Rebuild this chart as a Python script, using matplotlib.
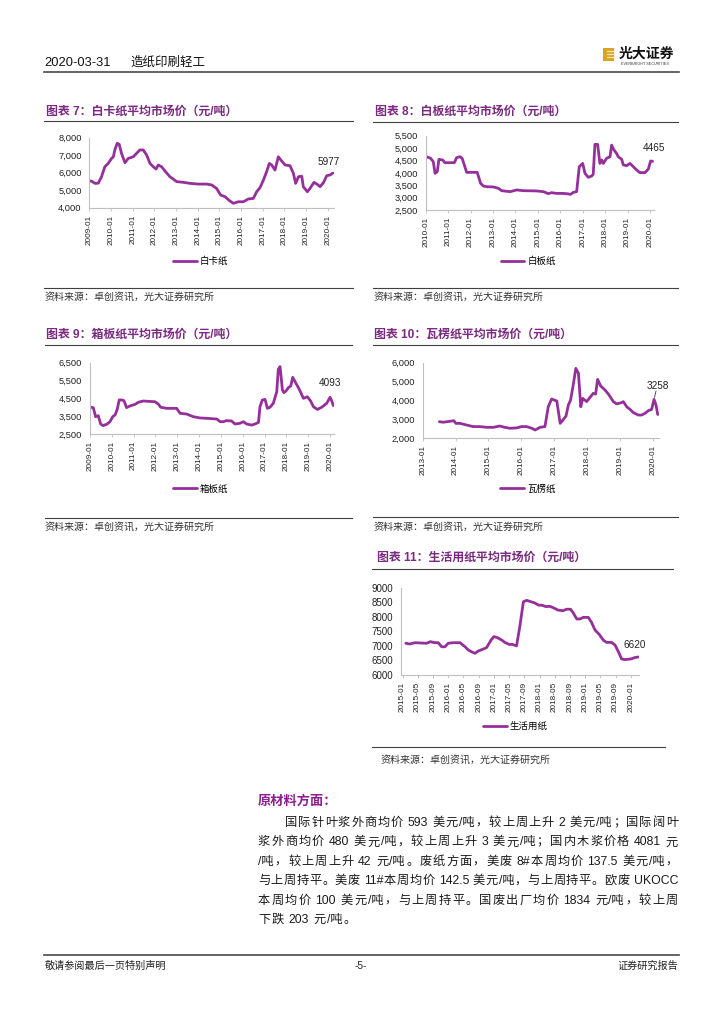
import matplotlib
matplotlib.use('Agg')
import matplotlib.pyplot as plt
import matplotlib.dates as mdates
from matplotlib.lines import Line2D
from matplotlib.patches import Rectangle
from matplotlib.ticker import FuncFormatter
import pandas as pd

plt.rcParams['font.family'] = ['Liberation Sans', 'Noto Sans CJK SC']

# ---------------- data ----------------
baika_dates = ['2009-01-01', '2009-02-10', '2009-04-05', '2009-06-01', '2009-07-26', '2009-09-20',
               '2009-11-15', '2010-01-12', '2010-02-10', '2010-03-07', '2010-04-16', '2010-05-20',
               '2010-06-28', '2010-08-25', '2010-10-20', '2011-01-12', '2011-03-07', '2011-05-03',
               '2011-06-28', '2011-08-25', '2011-10-20', '2011-12-15', '2012-01-30', '2012-03-07',
               '2012-05-03', '2012-06-28', '2012-09-20', '2013-01-12', '2013-05-03', '2013-08-25',
               '2014-01-12', '2014-06-01', '2014-08-25', '2014-11-15', '2015-01-23', '2015-04-05',
               '2015-06-28', '2015-08-25', '2015-11-15', '2016-02-10', '2016-05-03', '2016-07-26',
               '2016-09-20', '2016-11-15', '2017-01-12', '2017-03-07', '2017-04-22', '2017-06-01',
               '2017-07-26', '2017-09-20', '2017-11-15', '2018-01-12', '2018-04-05', '2018-06-01',
               '2018-07-09', '2018-08-25', '2018-10-20', '2018-11-15', '2019-01-23', '2019-03-07',
               '2019-05-14', '2019-07-09', '2019-08-25', '2019-10-20', '2019-12-15', '2020-02-10',
               '2020-03-27']
baika_values = [5520, 5520, 5390, 5400, 5770, 6340, 6530, 6820, 6900, 7300, 7680, 7620,
                7100, 6570, 6820, 6910, 7100, 7300, 7300, 7010, 6530, 6340, 6210, 6440,
                6340, 6100, 5770, 5490, 5450, 5390, 5350, 5350, 5300, 5100, 4720, 4630,
                4380, 4250, 4340, 4340, 4500, 4530, 4910, 5140, 5580, 6060, 6530, 6440,
                6150, 6910, 6670, 6440, 6400, 5960, 5390, 5770, 5800, 5200, 4910, 5100,
                5450, 5330, 5200, 5430, 5830, 5870, 5977]

baiban_dates = ['2010-01-16', '2010-03-22', '2010-05-05', '2010-06-02', '2010-07-09', '2010-08-04',
                '2010-10-04', '2010-11-10', '2011-04-12', '2011-05-19', '2011-07-13', '2011-08-18',
                '2011-10-30', '2012-04-19', '2012-06-13', '2012-07-27', '2012-09-20', '2013-01-08',
                '2013-03-29', '2013-05-22', '2013-10-05', '2014-01-22', '2014-05-09', '2014-12-13',
                '2015-04-01', '2015-06-21', '2015-08-14', '2015-11-03', '2016-02-21', '2016-05-10',
                '2016-06-17', '2016-07-31', '2016-09-24', '2016-11-06', '2017-01-01', '2017-02-07',
                '2017-04-02', '2017-05-26', '2017-06-21', '2017-07-19', '2017-09-01', '2017-10-08',
                '2017-11-06', '2017-12-03', '2018-01-26', '2018-03-22', '2018-04-16', '2018-05-26',
                '2018-07-05', '2018-08-03', '2018-09-27', '2018-10-24', '2018-12-17', '2019-02-10',
                '2019-04-05', '2019-05-30', '2019-07-20', '2019-10-12', '2019-12-05', '2020-01-12',
                '2020-02-13']
baiban_values = [4653, 4586, 4450, 3980, 4050, 4546, 4520, 4410, 4410, 4610, 4653, 4586,
                 4020, 4020, 3577, 3470, 3440, 3430, 3375, 3280, 3240, 3310, 3280, 3270,
                 3240, 3160, 3200, 3170, 3170, 3150, 3130, 3210, 3240, 4250, 4380, 3980,
                 3820, 3870, 3940, 5150, 5150, 4380, 4520, 4380, 4590, 4650, 5120, 4920,
                 4790, 4650, 4550, 4320, 4290, 4380, 4250, 4115, 4010, 4010, 4150, 4480,
                 4465]

xiangban_dates = ['2009-01-01', '2009-02-25', '2009-04-05', '2009-05-19', '2009-06-28', '2009-08-10',
                  '2009-10-15', '2009-12-01', '2010-01-16', '2010-02-25', '2010-04-01', '2010-05-05',
                  '2010-06-13', '2010-07-23', '2010-09-05', '2010-10-30', '2011-01-23', '2011-03-22',
                  '2011-06-10', '2011-12-24', '2012-02-17', '2012-03-29', '2012-07-05', '2012-12-20',
                  '2013-02-17', '2013-06-06', '2013-09-27', '2014-01-16', '2014-05-09', '2014-10-24',
                  '2014-12-17', '2015-02-10', '2015-04-05', '2015-06-28', '2015-08-25', '2015-11-15',
                  '2016-01-12', '2016-03-07', '2016-05-30', '2016-07-23', '2016-09-20', '2016-10-15',
                  '2016-11-24', '2017-01-08', '2017-02-17', '2017-04-01', '2017-05-26', '2017-07-23',
                  '2017-08-18', '2017-09-16', '2017-10-26', '2017-11-20', '2017-12-24', '2018-02-02',
                  '2018-03-14', '2018-04-16', '2018-05-26', '2018-07-20', '2018-08-30', '2018-10-12',
                  '2018-12-17', '2019-02-10', '2019-03-29', '2019-06-03', '2019-08-14', '2019-11-06',
                  '2020-01-01', '2020-01-30', '2020-02-25']
xiangban_values = [4000, 3980, 3470, 3530, 3060, 2970, 3060, 3190, 3470, 3570, 3880, 4410,
                   4410, 4370, 3980, 4070, 4160, 4280, 4350, 4310, 4180, 4000, 3940, 3940,
                   3660, 3620, 3470, 3400, 3380, 3340, 3190, 3190, 3250, 3230, 3060, 3100,
                   3190, 3060, 3000, 3060, 3150, 4030, 4410, 4440, 3940, 4000, 4220, 4870,
                   6130, 6280, 4970, 4820, 4910, 5100, 5190, 5680, 5430, 5100, 4820, 4500,
                   4590, 4350, 4030, 3880, 4000, 4220, 4560, 4350, 4093]

waleng_dates = ['2013-07-05', '2013-08-18', '2013-10-30', '2013-12-13', '2014-01-05', '2014-02-21',
                '2014-05-05', '2014-07-16', '2014-09-27', '2014-12-13', '2015-02-25', '2015-05-08',
                '2015-07-02', '2015-08-28', '2015-11-10', '2016-01-05', '2016-03-01', '2016-04-27',
                '2016-06-03', '2016-07-27', '2016-09-20', '2016-10-27', '2016-12-03', '2017-01-30',
                '2017-03-08', '2017-04-13', '2017-05-12', '2017-06-07', '2017-07-02', '2017-07-31',
                '2017-08-29', '2017-09-27', '2017-10-23', '2017-11-14', '2017-12-28', '2018-02-03',
                '2018-03-11', '2018-04-06', '2018-04-28', '2018-06-01', '2018-07-20', '2018-08-26',
                '2018-10-20', '2018-11-26', '2019-01-20', '2019-02-08', '2019-03-17', '2019-04-23',
                '2019-05-30', '2019-07-24', '2019-08-30', '2019-10-06', '2019-11-12', '2019-12-19',
                '2020-01-15', '2020-02-06', '2020-02-25']
waleng_values = [2880, 2850, 2900, 2930, 2790, 2790, 2700, 2620, 2620, 2580, 2580, 2650,
                 2580, 2530, 2550, 2620, 2620, 2530, 2440, 2580, 2620, 3670, 4080, 3970,
                 2790, 3000, 3180, 3760, 4030, 4820, 5700, 5440, 3670, 4110, 3940, 4170,
                 4380, 4340, 5120, 4770, 4550, 4340, 3940, 3820, 3890, 3940, 3670, 3530,
                 3360, 3230, 3230, 3320, 3460, 3530, 4060, 3760, 3258]

shenghuo_dates = ['2015-01-27', '2015-02-28', '2015-04-10', '2015-07-12', '2015-08-12', '2015-09-16',
                  '2015-10-13', '2015-11-10', '2015-12-06', '2016-01-01', '2016-02-10', '2016-04-05',
                  '2016-05-15', '2016-06-10', '2016-07-05', '2016-08-03', '2016-08-29', '2016-10-01',
                  '2016-11-03', '2016-12-09', '2017-01-01', '2017-01-30', '2017-03-05', '2017-03-29',
                  '2017-05-04', '2017-05-30', '2017-07-01', '2017-07-27', '2017-08-25', '2017-09-21',
                  '2017-10-23', '2017-11-24', '2017-12-25', '2018-01-19', '2018-02-21', '2018-03-25',
                  '2018-04-19', '2018-05-29', '2018-07-08', '2018-08-06', '2018-09-06', '2018-09-27',
                  '2018-10-26', '2018-11-21', '2018-12-17', '2019-01-26', '2019-02-21', '2019-03-21',
                  '2019-04-23', '2019-05-26', '2019-06-21', '2019-07-31', '2019-08-28', '2019-09-24',
                  '2019-10-20', '2019-11-16', '2020-01-01', '2020-02-04', '2020-03-03']
shenghuo_values = [7090, 7065, 7110, 7090, 7145, 7110, 7110, 6970, 6970, 7090, 7110, 7110,
                   6970, 6860, 6800, 6745, 6825, 6880, 6940, 7200, 7320, 7280, 7200, 7120,
                   7050, 7050, 7000, 7660, 8520, 8565, 8520, 8475, 8400, 8400, 8350, 8360,
                   8315, 8230, 8210, 8260, 8260, 8140, 7925, 7925, 7980, 7980, 7810, 7545,
                   7400, 7200, 7120, 7120, 7030, 6800, 6550, 6530, 6550, 6600, 6620]

para_lines = [
    '国际针叶浆外商均价 593 美元/吨，较上周上升 2 美元/吨；国际阔叶',
    '浆外商均价 480 美元/吨，较上周上升 3 美元/吨；国内木浆价格 4081 元',
    '/吨，较上周上升 42 元/吨。废纸方面，美废 8#本周均价 137.5 美元/吨，',
    '与上周持平。美废 11#本周均价 142.5 美元/吨，与上周持平。欧废 UKOCC',
    '本周均价 100 美元/吨，与上周持平。国废出厂均价 1834 元/吨，较上周',
    '下跌 203 元/吨。',
]

SOURCE = '资料来源：卓创资讯，光大证券研究所'

# ---------------- layout helpers ----------------
W, H = 724, 1024
fig = plt.figure(figsize=(W / 100, H / 100), dpi=100)
LINE = '#95309A'
TITLE = '#7A2A80'
PX = 1 / 1.389  # px -> pt


def fx(x):
    return x / W


def fy(y):
    return 1 - y / H


def rect(x0, y0, x1, y1):
    return [x0 / W, 1 - y1 / H, (x1 - x0) / W, (y1 - y0) / H]


def hline(x0, x1, y, color='#404040', lw=0.8):
    fig.add_artist(Line2D([fx(x0), fx(x1)], [fy(y), fy(y)], transform=fig.transFigure,
                          color=color, lw=lw))


def chart(box, dates, values, name, ylim, ystep, xlim, xticks, comma, ylab_fs,
          title, title_xy, title_line, legend_xy, src_line, src_xy, lab_off):
    ax = fig.add_axes(rect(*box))
    d = pd.to_datetime(dates)
    ax.plot(d, values, color=LINE, lw=2.0, solid_joinstyle='round', solid_capstyle='round',
            label=name)
    ax.set_xlim(pd.Timestamp(xlim[0]), pd.Timestamp(xlim[1]))
    ax.set_ylim(*ylim)
    ax.set_yticks(list(range(ylim[0], ylim[1] + 1, ystep)))
    if comma:
        ax.yaxis.set_major_formatter(FuncFormatter(lambda v, p: f'{int(v):,}'))
    else:
        ax.yaxis.set_major_formatter(FuncFormatter(lambda v, p: f'{int(v)}'))
    ax.set_xticks(pd.to_datetime(xticks))
    ax.xaxis.set_major_formatter(mdates.DateFormatter('%Y-%m'))
    for lb in ax.get_xticklabels():
        lb.set_rotation(90)
    for s in ('top', 'right'):
        ax.spines[s].set_visible(False)
    for s in ('left', 'bottom'):
        ax.spines[s].set_color('#BFBFBF')
        ax.spines[s].set_linewidth(0.8)
    ax.tick_params(axis='y', length=0, labelsize=ylab_fs, pad=5.5, labelcolor='#222')
    ax.tick_params(axis='x', length=2.5, width=0.6, color='#BFBFBF', labelsize=5.9, pad=2.5,
                   labelcolor='#222', direction='out')
    ax.patch.set_alpha(0)
    ax.annotate(f'{values[-1]}', xy=(d[-1], values[-1]),
                xytext=(lab_off[0] * PX, lab_off[1] * PX), textcoords='offset points',
                ha='center', va='center', fontsize=7.2, color='#222')
    ax.legend(loc='center left', bbox_to_anchor=(fx(legend_xy[0]), fy(legend_xy[1])),
              bbox_transform=fig.transFigure, frameon=False, fontsize=6.8,
              handlelength=2.5, handletextpad=0.35, borderpad=0, borderaxespad=0)
    fig.text(fx(title_xy[0]), fy(title_xy[1]), title, fontsize=8.6, fontweight='bold',
             color=TITLE, va='center', ha='left')
    hline(title_line[0], title_line[1], title_line[2])
    hline(src_line[0], src_line[1], src_line[2])
    fig.text(fx(src_xy[0]), fy(src_xy[1]), SOURCE, fontsize=7.2, color='#333',
             va='center', ha='left')
    return ax, d


# ---------------- header ----------------
fig.text(fx(44), fy(63), '2020-03-31', fontsize=9.3, va='center', color='#111')
fig.text(fx(130), fy(63), '造纸印刷轻工', fontsize=9.0, va='center', color='#111')
hline(44, 679, 72.3, color='#4a4a4a', lw=1.2)
fig.add_artist(Rectangle((fx(603), fy(60.5)), (613.5 - 603) / W, 12.8 / H,
                         transform=fig.transFigure, facecolor='#D9A521', edgecolor='none'))
for yy in (51.0, 54.0, 57.0):
    fig.add_artist(Line2D([fx(606.5), fx(613.5)], [fy(yy), fy(yy)], transform=fig.transFigure,
                          color='#F6E7B8', lw=0.9))
fig.text(fx(619), fy(53.2), '光大证券', fontsize=10, fontweight='bold', va='center',
         ha='left', color='#111')
fig.text(fx(621), fy(64.3), 'EVERBRIGHT SECURITIES', fontsize=2.7, va='center', ha='left',
         color='#333')

# ---------------- charts ----------------
chart((89.3, 137.7, 334, 207.7), baika_dates, baika_values, '白卡纸',
      (4000, 8000), 1000, ('2009-01-01', '2020-04-15'),
      [f'{y}-01-01' for y in range(2009, 2021)], True, 6.7,
      '图表 7：白卡纸平均市场价（元/吨）', (46, 111.7), (44, 353, 121),
      (173, 261.7), (44, 353, 288), (45, 296.7), (-4, 11))

chart((425.7, 135.7, 654, 210), baiban_dates, baiban_values, '白板纸',
      (2500, 5500), 500, ('2010-01-01', '2020-03-07'),
      [f'{y}-01-01' for y in range(2010, 2021)], True, 6.7,
      '图表 8：白板纸平均市场价（元/吨）', (375, 111.7), (373, 678, 121.7),
      (500.7, 261.7), (373, 678, 288.3), (374, 296.7), (1, 13))

chart((90, 362.7, 334, 434), xiangban_dates, xiangban_values, '箱板纸',
      (2500, 6500), 1000, ('2009-01-01', '2020-03-07'),
      [f'{y}-01-01' for y in range(2009, 2021)], True, 6.7,
      '图表 9：箱板纸平均市场价（元/吨）', (46, 335), (45, 352, 345),
      (173, 489), (45, 352, 517.7), (45, 526.7), (-3, 22.7))

ax10, d10 = chart((422.7, 362.7, 659, 438.3), waleng_dates, waleng_values, '瓦楞纸',
                  (2000, 6000), 1000, ('2013-01-01', '2020-03-10'),
                  [f'{y}-01-01' for y in range(2013, 2021)], True, 6.7,
                  '图表 10：瓦楞纸平均市场价（元/吨）', (374, 335), (373, 678, 345),
                  (500, 489), (373, 678, 516.7), (374, 526.7), (0, 29))
ax10.annotate('', xy=(d10[-3], waleng_values[-3]), xytext=(2 * PX, 8.5 * PX),
              textcoords='offset points',
              arrowprops=dict(arrowstyle='-', color='#333', lw=0.6, shrinkA=0, shrinkB=1.5))

chart((400.7, 587.7, 639, 675), shenghuo_dates, shenghuo_values, '生活用纸',
      (6000, 9000), 500, ('2014-12-17', '2020-03-07'),
      pd.date_range('2015-01-01', '2020-01-01', freq='4MS').strftime('%Y-%m-%d').tolist(),
      False, 7.0,
      '图表 11：生活用纸平均市场价（元/吨）', (376.7, 557.3), (372, 673, 569),
      (483, 726.7), (372, 665, 747.3), (381, 760), (-4, 12))

# ---------------- paragraph ----------------
fig.text(fx(258), fy(801.7), '原材料方面：', fontsize=9.5, fontweight='bold',
         color='#8B1F8F', va='center', ha='left')

renderer = fig.canvas.get_renderer()


def tokenize(s):
    toks = []
    pending = False
    run = None
    for ch in s:
        if ch == ' ':
            if run is not None:
                toks.append(run)
                run = None
            pending = True
        elif ord(ch) < 128:
            if run is None:
                run = [ch, pending]
                pending = False
            else:
                run[0] += ch
        else:
            if run is not None:
                if run[0] == '/':
                    run[0] += ch
                    toks.append(run)
                    run = None
                    pending = False
                    continue
                toks.append(run)
                run = None
            toks.append([ch, pending])
            pending = False
    if run is not None:
        toks.append(run)
    return toks


def place_line(s, x0, x1, ybase, fs, justify=True):
    toks = tokenize(s)
    arts, widths = [], []
    for t, _ in toks:
        a = fig.text(0, 0, t, fontsize=fs, va='baseline', ha='left', color='#1a1a1a')
        arts.append(a)
        widths.append(a.get_window_extent(renderer).width)
    sw = fs / PX * 0.28
    nsp = sum(1 for _, sp in toks if sp)
    total = sum(widths) + nsp * sw
    gap = (x1 - x0 - total) / (len(toks) - 1) if justify else 1.2
    x = x0
    for (t, sp), a, w in zip(toks, arts, widths):
        if sp:
            x += sw
        a.set_position((fx(x), fy(ybase)))
        x += w + gap


PFS = 8.8
for i, ln in enumerate(para_lines):
    yc = 821.5 + 19.45 * i
    x0 = 285 if i == 0 else 258
    place_line(ln, x0, 678, yc + 4.4, PFS, justify=(i < len(para_lines) - 1))

# ---------------- footer ----------------
hline(44, 679, 955, color='#4a4a4a', lw=1.2)
fig.text(fx(45), fy(966), '敬请参阅最后一页特别声明', fontsize=7.3, va='center', ha='left',
         color='#222')
fig.text(fx(361), fy(966), '-5-', fontsize=7.3, va='center', ha='center', color='#222')
fig.text(fx(678), fy(966), '证券研究报告', fontsize=7.3, va='center', ha='right', color='#222')

fig.savefig('out.png', dpi=100)
